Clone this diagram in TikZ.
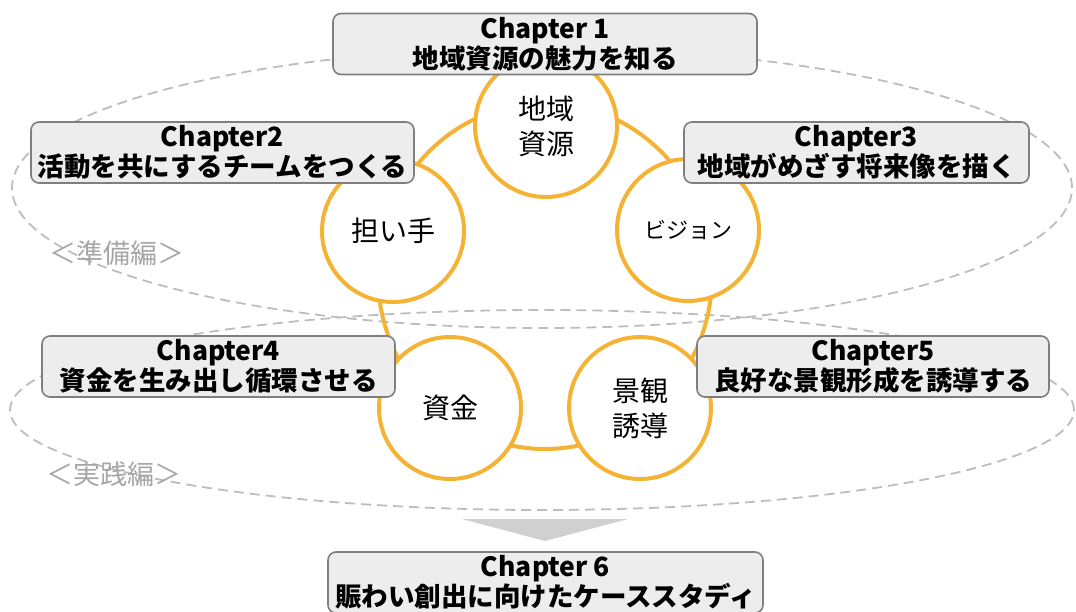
\documentclass[tikz,border=0pt]{standalone}
\usepackage{fontspec}
\newfontfamily\jpfont{Noto Sans CJK JP}
\usepackage{tikz}
\usetikzlibrary{positioning}
\definecolor{ringorange}{HTML}{F5B335}
\definecolor{boxgray}{HTML}{EDEDED}
\definecolor{edgegray}{HTML}{7F7F7F}
\definecolor{dashgray}{HTML}{BDBDBD}
\definecolor{labelgray}{HTML}{A6A6A6}
\definecolor{arrowgray}{HTML}{D0D0D0}

\begin{document}
\begin{tikzpicture}[x=1pt, y=-1pt,
  chapter/.style={draw=edgegray, fill=boxgray, rounded corners=8pt, line width=1.6pt,
    align=center, inner sep=0pt, minimum height=61pt,
    font=\jpfont\bfseries\fontsize{26.5}{30}\selectfont},
  topic/.style={circle, draw=ringorange, fill=white, line width=4pt, minimum size=142pt,
    align=center, inner sep=0pt, font=\jpfont\fontsize{28}{35}\selectfont},
  part/.style={text=labelgray, inner sep=0pt, font=\jpfont\fontsize{27}{30}\selectfont}]
  \useasboundingbox (0,0) rectangle (1076,612);

  % Parts
  \draw[dashgray, line width=1.8pt, dash pattern=on 10pt off 6pt] (542,188) ellipse [x radius=530pt, y radius=140pt];
  \draw[dashgray, line width=1.8pt, dash pattern=on 10pt off 6pt] (542,410) ellipse [x radius=532pt, y radius=100pt];
  \node[part] (prep) at (117,253) {＜準備編＞};
  \node[part] (prac) at (114,474) {＜実践編＞};

  % Ring
  \coordinate (ring) at (545,276);
  \draw[ringorange, line width=4pt] (ring) ellipse [x radius=167pt, y radius=173pt];

  % Nodes
  \node[topic] (1) at (546,126) {地域\\資源};
  \node[topic] (2) at (393,231) {担い手};
  \node[topic, font=\jpfont\fontsize{22}{26}\selectfont] (3) at (688,230) {ビジョン};
  \node[topic] (4) at (450,408) {資金};
  \node[topic] (5) at (640,408) {景観\\誘導};

  % Chapters
  \node[chapter, minimum width=424pt] (ch1) at (545,44) {Chapter 1\\地域資源の魅力を知る};
  \node[chapter, minimum width=383pt] (ch2) at (222.5,152.5) {Chapter2\\活動を共にするチームをつくる};
  \node[chapter, minimum width=345pt] (ch3) at (856.5,152.5) {Chapter3\\地域がめざす将来像を描く};
  \node[chapter, minimum width=353pt] (ch4) at (218.5,366.5) {Chapter4\\資金を生み出し循環させる};
  \node[chapter, minimum width=352pt] (ch5) at (873,366.5) {Chapter5\\良好な景観形成を誘導する};
  \node[chapter, minimum width=435pt] (ch6) at (545.5,582.5) {Chapter 6\\賑わい創出に向けたケーススタディ};

  % Arrow
  \fill[arrowgray] (462,519) -- (628,519) -- (545,541) -- cycle;
\end{tikzpicture}
\end{document}
